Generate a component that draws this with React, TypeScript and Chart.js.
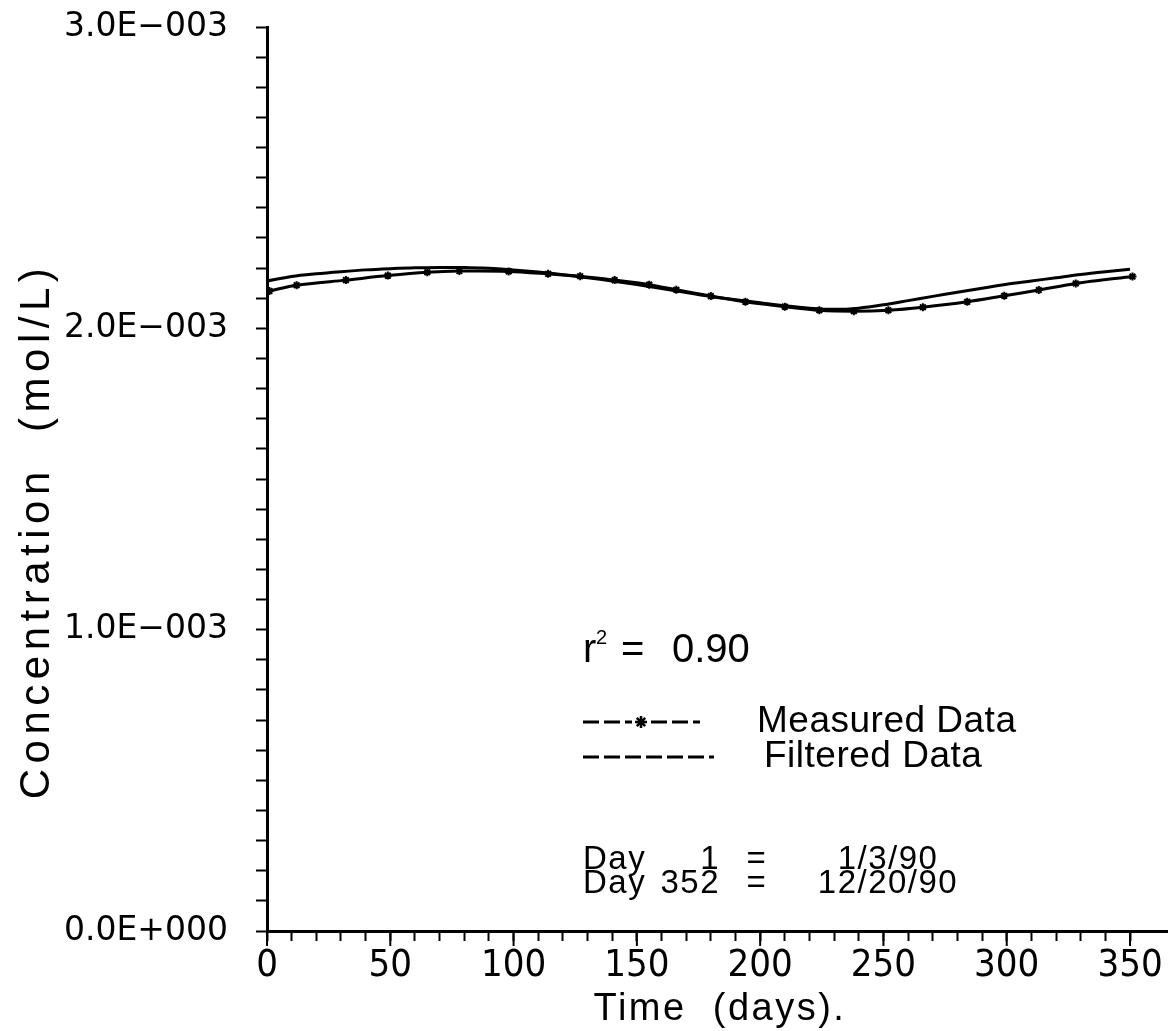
import React, { useEffect, useRef } from 'react';
import { Chart, registerables } from 'chart.js';

Chart.register(...registerables);

// ---- data ----
const measuredDays = [1, 12, 32, 49, 65, 78, 98, 114, 127, 141, 155, 166, 180, 194, 210, 224, 238, 252, 266, 284, 299, 313, 328, 351];
const measuredConc = [
  2.124e-3, 2.143e-3, 2.16e-3, 2.175e-3, 2.186e-3, 2.19e-3, 2.189e-3, 2.181e-3, 2.173e-3, 2.16e-3, 2.145e-3, 2.128e-3,
  2.107e-3, 2.088e-3, 2.072e-3, 2.06e-3, 2.057e-3, 2.06e-3, 2.07e-3, 2.088e-3, 2.108e-3, 2.127e-3, 2.149e-3, 2.172e-3,
];
const filteredDays = [0, 10, 20, 30, 40, 50, 60, 70, 80, 90, 100, 110, 120, 130, 140, 150, 160, 170, 180, 190, 200, 210, 220, 230, 240, 250, 260, 270, 280, 290, 300, 310, 320, 330, 340, 350];
const filteredConc = [
  2.157e-3, 2.172e-3, 2.181e-3, 2.188e-3, 2.194e-3, 2.198e-3, 2.201e-3, 2.202e-3, 2.202e-3, 2.199e-3, 2.194e-3, 2.187e-3,
  2.178e-3, 2.168e-3, 2.157e-3, 2.145e-3, 2.132e-3, 2.119e-3, 2.106e-3, 2.095e-3, 2.085e-3, 2.075e-3, 2.067e-3, 2.063e-3,
  2.067e-3, 2.078e-3, 2.092e-3, 2.106e-3, 2.12e-3, 2.133e-3, 2.146e-3, 2.157e-3, 2.168e-3, 2.179e-3, 2.188e-3, 2.196e-3,
];
const xTickLabels = [0, 50, 100, 150, 200, 250, 300, 350];
const yTickLabels = ['0.0E+000', '1.0E\u2212003', '2.0E\u2212003', '3.0E\u2212003'];
const xTitle = 'Time  (days).';
const yTitle = 'Concentration  (mol/L)';
const rSquared = '0.90';
const seriesNames = ['Measured Data', 'Filtered Data'];
const dayNotes = [
  ['Day', '1', '=', '1/3/90'],
  ['Day', '352', '=', '12/20/90'],
];

const SANS = '"Liberation Sans", Arial, sans-serif';
const NARROW = '"Liberation Sans Narrow", "DejaVu Sans Condensed", "Liberation Sans", sans-serif';

function drawStar(ctx: CanvasRenderingContext2D, x: number, y: number, r: number) {
  ctx.beginPath();
  ctx.moveTo(x - r, y);
  ctx.lineTo(x + r, y);
  ctx.moveTo(x, y - r);
  ctx.lineTo(x, y + r);
  const d = r * 0.7;
  ctx.moveTo(x - d, y - d);
  ctx.lineTo(x + d, y + d);
  ctx.moveTo(x - d, y + d);
  ctx.lineTo(x + d, y - d);
  ctx.stroke();
}

const annotatePlugin = {
  id: 'annotate',
  afterDraw(chart: any) {
    const ctx: CanvasRenderingContext2D = chart.ctx;
    const xs = chart.scales.x;
    const area = chart.chartArea;
    ctx.save();
    ctx.fillStyle = '#000';
    ctx.strokeStyle = '#000';
    // longer major ticks on x axis
    ctx.lineWidth = 2;
    for (const v of xTickLabels) {
      const px = xs.getPixelForValue(v);
      ctx.beginPath();
      ctx.moveTo(px, area.bottom);
      ctx.lineTo(px, area.bottom + 15);
      ctx.stroke();
    }

    // y title
    ctx.save();
    ctx.translate(37, 531);
    ctx.rotate(-Math.PI / 2);
    ctx.font = `42px ${SANS}`;
    (ctx as any).letterSpacing = '5.5px';
    ctx.textAlign = 'center';
    ctx.textBaseline = 'middle';
    ctx.fillText(yTitle, 0, 0);
    ctx.restore();

    // x title
    ctx.save();
    ctx.font = `38px ${SANS}`;
    (ctx as any).letterSpacing = '2.5px';
    ctx.textAlign = 'center';
    ctx.textBaseline = 'alphabetic';
    ctx.fillText(xTitle, 720, 1020);
    ctx.restore();

    // r^2
    ctx.textAlign = 'left';
    ctx.textBaseline = 'alphabetic';
    ctx.font = `40px ${SANS}`;
    ctx.fillText('r', 583, 662);
    ctx.font = `20px ${SANS}`;
    ctx.fillText('2', 596, 644);
    ctx.font = `40px ${SANS}`;
    ctx.fillText('=', 621, 662);
    ctx.fillText(rSquared, 672, 662);

    // legend
    ctx.lineWidth = 3;
    ctx.setLineDash([16, 5]);
    ctx.beginPath();
    ctx.moveTo(583, 722);
    ctx.lineTo(632, 722);
    ctx.moveTo(651, 722);
    ctx.lineTo(700, 722);
    ctx.moveTo(583, 757);
    ctx.lineTo(714, 757);
    ctx.stroke();
    ctx.setLineDash([]);
    ctx.lineWidth = 2.5;
    drawStar(ctx, 641, 722, 6);
    ctx.textAlign = 'left';
    ctx.textBaseline = 'alphabetic';
    ctx.font = `37px ${SANS}`;
    (ctx as any).letterSpacing = '0.5px';
    ctx.fillText(seriesNames[0], 757, 732);
    ctx.fillText(seriesNames[1], 764, 767);

    // day notes
    ctx.font = `33px ${SANS}`;
    (ctx as any).letterSpacing = '1.5px';
    const baselines = [869, 893];
    dayNotes.forEach((row, i) => {
      const y = baselines[i];
      ctx.textAlign = 'left';
      ctx.fillText(row[0], 583, y);
      ctx.textAlign = 'right';
      ctx.fillText(row[1], 720, y);
      ctx.textAlign = 'center';
      ctx.fillText(row[2], 757, y);
      ctx.fillText(row[3], 888, y);
    });
    ctx.restore();
  },
};

export default function App() {
  const ref = useRef<HTMLCanvasElement>(null);
  useEffect(() => {
    if (!ref.current) return;
    const chart = new Chart(ref.current, {
      type: 'line',
      data: {
        datasets: [
          {
            label: seriesNames[0],
            data: measuredDays.map((d, i) => ({ x: d, y: measuredConc[i] })),
            borderColor: '#000',
            backgroundColor: '#000',
            borderWidth: 3,
            pointStyle: 'star',
            pointRadius: 4,
            pointBorderWidth: 2,
            pointBorderColor: '#000',
            tension: 0.3,
            fill: false,
          },
          {
            label: seriesNames[1],
            data: filteredDays.map((d, i) => ({ x: d, y: filteredConc[i] })),
            borderColor: '#000',
            borderWidth: 3,
            pointRadius: 0,
            tension: 0.3,
            fill: false,
          },
        ],
      },
      options: {
        responsive: false,
        animation: false,
        devicePixelRatio: 1,
        layout: { padding: { left: 0, right: 5, top: 27, bottom: 0 } },
        plugins: { legend: { display: false }, tooltip: { enabled: false }, title: { display: false } },
        scales: {
          x: {
            type: 'linear',
            min: 0,
            max: 365,
            border: { display: true, color: '#000', width: 3 },
            grid: { drawOnChartArea: false, drawTicks: true, tickLength: 10, tickWidth: 2, tickColor: '#000' },
            ticks: {
              stepSize: 10,
              autoSkip: false,
              maxRotation: 0,
              color: '#000',
              padding: 2,
              font: { family: NARROW, size: 38 },
              callback: (v: any) => (xTickLabels.includes(Number(v)) ? String(v) : ''),
            },
            afterBuildTicks: (scale: any) => {
              scale.ticks = scale.ticks.filter((t: any) => Math.abs(t.value % 10) < 1e-9);
            },
            afterFit: (scale: any) => {
              scale.height = 100;
              scale.paddingLeft = 0;
              scale.paddingRight = 0;
            },
          },
          y: {
            type: 'linear',
            min: 0,
            max: 0.003,
            border: { display: true, color: '#000', width: 3 },
            grid: { drawOnChartArea: false, drawTicks: true, tickLength: 11, tickWidth: 2, tickColor: '#000' },
            ticks: {
              stepSize: 0.0001,
              autoSkip: false,
              color: '#000',
              padding: 28,
              font: { family: '"DejaVu Sans", sans-serif', size: 33 },
              callback: (v: any) => {
                const k = Number(v) * 1000;
                const r = Math.round(k);
                return Math.abs(k - r) < 1e-6 ? yTickLabels[r] : '';
              },
            },
            afterFit: (scale: any) => {
              scale.width = 267;
              scale.paddingTop = 0;
              scale.paddingBottom = 0;
            },
          },
        },
      },
      plugins: [annotatePlugin],
    });
    return () => chart.destroy();
  }, []);
  return (
    <div style={{ position: 'fixed', left: 0, top: 0, width: 1173, height: 1031, background: '#fff' }}>
      <canvas ref={ref} width={1173} height={1031} style={{ width: 1173, height: 1031, display: 'block' }} />
    </div>
  );
}
